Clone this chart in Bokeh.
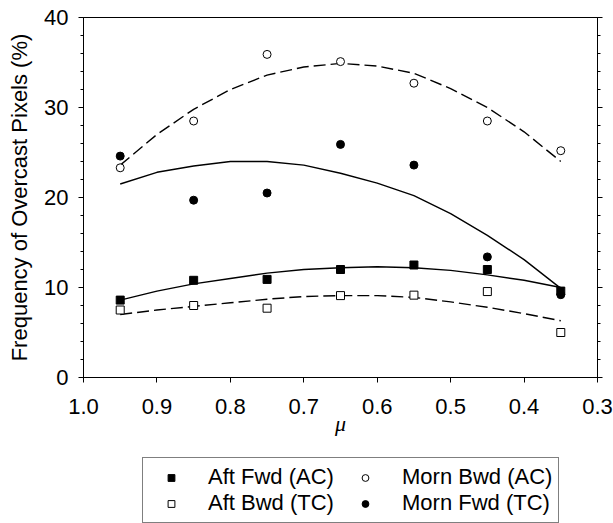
from bokeh.plotting import figure
from bokeh.layouts import column
from bokeh.models import Range1d, LinearAxis, FixedTicker, Legend, LegendItem, PrintfTickFormatter
from bokeh.embed import file_html
from bokeh.resources import INLINE

# --- data ---
mu = [0.95, 0.85, 0.75, 0.65, 0.55, 0.45, 0.35]
aft_fwd_ac = [8.6, 10.8, 10.9, 12.0, 12.5, 12.0, 9.6]
aft_bwd_tc = [7.5, 8.0, 7.7, 9.1, 9.15, 9.55, 5.0]
morn_bwd_ac = [23.3, 28.5, 35.9, 35.1, 32.7, 28.5, 25.2]
morn_fwd_tc = [24.6, 19.7, 20.5, 25.9, 23.6, 13.4, 9.2]

# fitted curves
fit_mu = [0.95, 0.90, 0.85, 0.80, 0.75, 0.70, 0.65, 0.60, 0.55, 0.50, 0.45, 0.40, 0.35]
fit_morn_bwd = [23.6, 27.0, 29.8, 32.0, 33.6, 34.5, 34.9, 34.6, 33.8, 32.1, 30.0, 27.3, 24.0]
fit_morn_fwd = [21.5, 22.8, 23.5, 24.0, 24.0, 23.6, 22.7, 21.6, 20.2, 18.2, 15.8, 13.1, 9.9]
fit_aft_fwd = [8.6, 9.6, 10.4, 11.0, 11.6, 12.0, 12.2, 12.3, 12.2, 11.9, 11.4, 10.8, 10.0]
fit_aft_bwd = [7.0, 7.5, 7.9, 8.3, 8.7, 9.0, 9.1, 9.1, 8.9, 8.4, 7.8, 7.1, 6.3]

x_ticks = [1.0, 0.9, 0.8, 0.7, 0.6, 0.5, 0.4, 0.3]
y_ticks = [0, 10, 20, 30, 40]
y_minor = [0, 2, 4, 6, 8, 10, 12, 14, 16, 18, 20, 22, 24, 26, 28, 30, 32, 34, 36, 38, 40]

series_labels = ["Aft Fwd (AC)", "Aft Bwd (TC)", "Morn Bwd (AC)", "Morn Fwd (TC)"]
series_values = [aft_fwd_ac, aft_bwd_tc, morn_bwd_ac, morn_fwd_tc]

FONT = "Liberation Sans"

p = figure(width=613, height=446, x_range=Range1d(1.0, 0.3), y_range=Range1d(0, 40),
           output_backend="svg", toolbar_location=None,
           min_border_left=83, min_border_right=16, min_border_top=17, min_border_bottom=69,
           x_axis_label="μ", y_axis_label="Frequency of Overcast Pixels (%)")
p.xgrid.visible = False
p.ygrid.visible = False
p.outline_line_color = "black"
p.outline_line_width = 1
p.background_fill_color = "white"
p.border_fill_color = "white"

# fit lines
p.line(fit_mu, fit_morn_bwd, line_color="black", line_width=1.4, line_dash="12 5")
p.line(fit_mu, fit_morn_fwd, line_color="black", line_width=1.4)
p.line(fit_mu, fit_aft_fwd, line_color="black", line_width=1.4)
p.line(fit_mu, fit_aft_bwd, line_color="black", line_width=1.4, line_dash="12 5")

# marker styles per series
styles = [
    dict(marker="square", fill_color="black", line_color="black"),
    dict(marker="square", fill_color="white", line_color="black"),
    dict(marker="circle", fill_color="white", line_color="black"),
    dict(marker="circle", fill_color="black", line_color="black"),
]

# points
for ys, st in zip(series_values, styles):
    p.scatter(mu, ys, size=8, line_width=1, **st)

# x axis
xa = p.xaxis[0]
xa.ticker = FixedTicker(ticks=x_ticks)
xa.formatter = PrintfTickFormatter(format="%.1f")
xa.major_tick_out = 5
xa.major_tick_in = 0
xa.minor_tick_line_color = None
xa.major_label_text_font = FONT
xa.major_label_text_font_size = "22px"
xa.major_label_text_color = "black"
xa.major_label_standoff = 16
xa.axis_label_text_font = "Liberation Serif"
xa.axis_label_text_font_style = "italic"
xa.axis_label_text_font_size = "22px"
xa.axis_label_text_color = "black"
xa.axis_label_standoff = -6
xa.axis_line_color = "black"

# y axis
ya = p.yaxis[0]
ya.ticker = FixedTicker(ticks=y_ticks, minor_ticks=y_minor)
ya.formatter = PrintfTickFormatter(format="%d")
ya.major_tick_out = 5
ya.major_tick_in = 0
ya.minor_tick_out = 3
ya.minor_tick_in = 0
ya.major_label_text_font = FONT
ya.major_label_text_font_size = "22px"
ya.major_label_text_color = "black"
ya.major_label_standoff = 10
ya.axis_label_text_font = FONT
ya.axis_label_text_font_style = "normal"
ya.axis_label_text_font_size = "22px"
ya.axis_label_text_color = "black"
ya.axis_label_standoff = 9
ya.axis_line_color = "black"

# right axis (ticks only)
ra = LinearAxis(ticker=FixedTicker(ticks=y_ticks, minor_ticks=y_minor))
ra.major_tick_out = 5
ra.major_tick_in = 0
ra.minor_tick_out = 3
ra.minor_tick_in = 0
ra.major_label_text_font_size = "0px"
ra.major_label_text_color = None
ra.major_label_standoff = 0
p.add_layout(ra, "right")

# legend panel (separate strip below the plot); its renderers lie outside its visible ranges
pl = figure(width=613, height=77, x_range=Range1d(5, 6), y_range=Range1d(100, 101),
            output_backend="svg", toolbar_location=None, min_border=0,
            x_axis_type=None, y_axis_type=None)
pl.xgrid.visible = False
pl.ygrid.visible = False
pl.outline_line_color = None
pl.background_fill_color = "white"
pl.border_fill_color = "white"

items = []
for lab, ys, st in zip(series_labels, series_values, styles):
    r = pl.scatter(mu, ys, size=8, line_width=1, **st)
    items.append(LegendItem(label=lab, renderers=[r]))

legend = Legend(items=items, location=(59, 0), ncols=2, orientation="vertical",
                padding=6, spacing=0, glyph_width=44, glyph_height=17, label_standoff=15,
                label_width=135, label_height=24,
                label_text_font=FONT, label_text_font_size="22px", label_text_color="black",
                border_line_color="black", border_line_width=1,
                background_fill_color="white", background_fill_alpha=1, margin=0)
pl.add_layout(legend, "center")

open("out.html", "w").write(file_html(column(p, pl), INLINE))
